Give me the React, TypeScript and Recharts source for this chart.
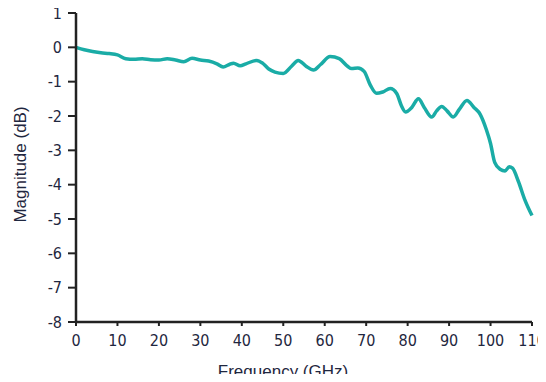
import { LineChart, Line, XAxis, YAxis, Label } from "recharts";

// frequency in GHz and magnitude in dB
const frequencies = [
  0, 2, 4, 6, 8, 10, 12, 14, 16, 18, 20, 22, 24, 26, 28, 30, 32, 34, 35.5, 37,
  38, 39.6, 41, 43.6, 45, 46.5, 48, 50, 52, 53.6, 55.5, 57.3, 59, 61.3, 63.5,
  65.5, 66.5, 68, 69.5, 71, 72.5, 74, 75.8, 77.4, 78.5, 79.5, 81, 82.6, 84,
  85.8, 87, 88.2, 89.5, 91, 92.5, 94.3, 96, 97.5, 99, 100, 101, 102.3, 103.5,
  104.5, 105.3, 106.7, 108.3, 110,
];
const magnitudes = [
  0, -0.07, -0.12, -0.16, -0.18, -0.22, -0.33, -0.35, -0.33, -0.36, -0.37,
  -0.33, -0.37, -0.42, -0.32, -0.37, -0.4, -0.48, -0.57, -0.5, -0.46, -0.54,
  -0.48, -0.38, -0.46, -0.63, -0.72, -0.76, -0.55, -0.38, -0.55, -0.66, -0.5,
  -0.27, -0.33, -0.55, -0.62, -0.6, -0.7, -1.1, -1.34, -1.3, -1.2, -1.35, -1.7,
  -1.88, -1.75, -1.5, -1.75, -2.03, -1.85, -1.72, -1.85, -2.03, -1.8, -1.55,
  -1.75, -1.95, -2.4, -2.8, -3.35, -3.55, -3.6, -3.48, -3.52, -3.9, -4.45,
  -4.9,
];
const xTicks = [0, 10, 20, 30, 40, 50, 60, 70, 80, 90, 100, 110];
const yTicks = [-8, -7, -6, -5, -4, -3, -2, -1, 0, 1];

const data = frequencies.map((f, i) => ({ f, mag: magnitudes[i] }));

const tickFont = "'Liberation Sans Narrow', 'DejaVu Sans Condensed', sans-serif";
const labelFont = "'Liberation Sans', Arial, sans-serif";
const textColor = "#1f2740";
const tickStyle = { fill: textColor, fontSize: 16, fontFamily: tickFont };
const labelStyle = { fill: textColor, fontSize: 17, fontFamily: labelFont };
const axisColor = "#222";

export default function App() {
  // cancel the body margin so the chart fills the whole 546x382 window
  return (
    <div style={{ margin: -8, width: 546, height: 382 }}>
      <LineChart
        width={546}
        height={382}
        data={data}
        margin={{ top: 13, right: 14, left: 8, bottom: 0 }}
      >
        <XAxis
          dataKey="f"
          type="number"
          domain={[0, 110]}
          ticks={xTicks}
          interval={0}
          height={60}
          tick={tickStyle}
          tickSize={4}
          tickMargin={9}
          axisLine={{ stroke: axisColor, strokeWidth: 2.5 }}
          tickLine={{ stroke: axisColor, strokeWidth: 2 }}
        >
          <Label
            value="Frequency (GHz)"
            position="insideBottom"
            offset={5}
            dx={-21}
            style={labelStyle}
          />
        </XAxis>
        <YAxis
          type="number"
          domain={[-8, 1]}
          ticks={yTicks}
          interval={0}
          width={68}
          tick={tickStyle}
          tickSize={8}
          tickMargin={6}
          axisLine={{ stroke: axisColor, strokeWidth: 2.5 }}
          tickLine={{ stroke: axisColor, strokeWidth: 2 }}
        >
          <Label
            value="Magnitude (dB)"
            angle={-90}
            position="insideLeft"
            offset={12}
            dy={-3}
            style={{ ...labelStyle, textAnchor: "middle" }}
          />
        </YAxis>
        <Line
          type="monotone"
          dataKey="mag"
          stroke="#1aaca6"
          strokeWidth={3.5}
          dot={false}
          isAnimationActive={false}
        />
      </LineChart>
    </div>
  );
}
